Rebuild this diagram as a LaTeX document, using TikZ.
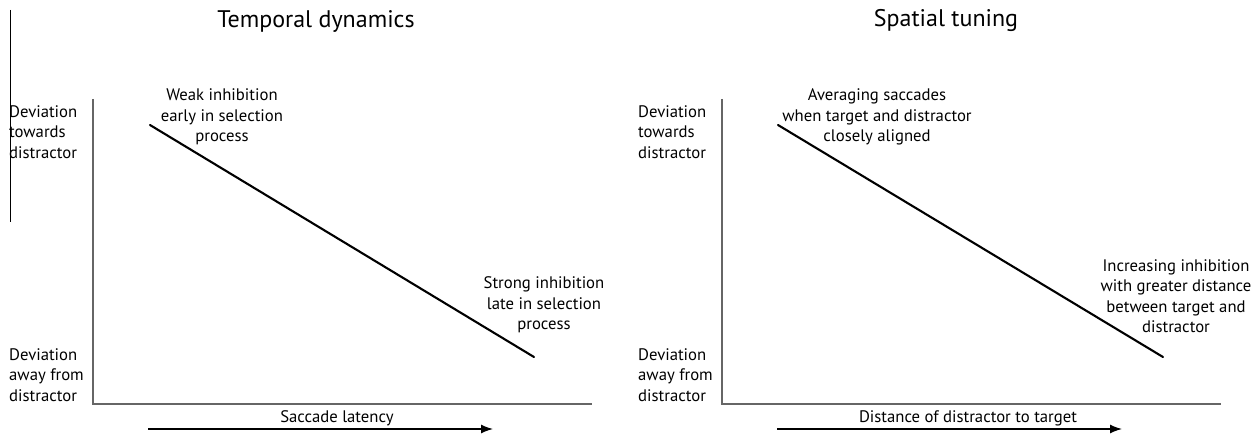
\documentclass[tikz,border=0pt]{standalone}
\usepackage{fontspec}
\setmainfont{PT Sans}
\usetikzlibrary{positioning, arrows.meta}
\tikzset{>=latex}

\begin{document}
\begin{tikzpicture}[x=1pt,y=-1pt,
  lbl/.style={font=\fontsize{16.7}{20.5}\selectfont, align=center, inner sep=0pt},
  ttl/.style={font=\fontsize{24}{28}\selectfont, inner sep=0pt},
  axis/.style={draw=black!60, line width=1.6pt},
  trend/.style={line width=2.1pt, line cap=round}]
\useasboundingbox (0,0) rectangle (1254,436);

% stray vertical line at the left
\coordinate (s1) at (10,10);
\coordinate (s2) at (10,222);
\draw[line width=1pt] (s1) -- (s2);

% axes, arrows and y labels of both panels
\foreach \ox/\p in {0/L,629/R}{
  \coordinate (top\p) at (93+\ox,99);
  \coordinate (orig\p) at (93+\ox,404);
  \coordinate (end\p) at (592+\ox,404);
  \draw[axis] (top\p) -- (orig\p) -- (end\p);
  % arrow under the axis
  \coordinate (a\p) at (148+\ox,429);
  \coordinate (b\p) at (493+\ox,429);
  \draw[line width=1.3pt, -{Latex[length=12pt,width=9pt]}] (a\p) -- (b\p);
  % y labels
  \node[lbl, align=left, anchor=west] (tow\p) at (9+\ox,132) {Deviation\\towards\\distractor};
  \node[lbl, align=left, anchor=west] (away\p) at (9+\ox,375) {Deviation\\away from\\distractor};
}

% trend lines
\coordinate (p1) at (150,125);
\coordinate (p2) at (534,357);
\draw[trend] (p1) -- (p2);
\coordinate (q1) at (778,125);
\coordinate (q2) at (1163,357);
\draw[trend] (q1) -- (q2);

% titles
\node[ttl] (temporal) at (316,21) {Temporal dynamics};
\node[ttl] (spatial) at (946,21) {Spatial tuning};

% x labels
\node[lbl] (latency) at (337,418) {Saccade latency};
\node[lbl] (distance) at (968,418) {Distance of distractor to target};

% annotations
\node[lbl] (weak) at (222,117) {Weak inhibition\\early in selection\\process};
\node[lbl] (strong) at (544,305) {Strong inhibition\\late in selection\\process};
\node[lbl] (averaging) at (877,117) {Averaging saccades\\when target and distractor\\closely aligned};
\node[lbl] (increasing) at (1176,296) {Increasing inhibition\\with greater distance\\between target and\\distractor};
\end{tikzpicture}
\end{document}
